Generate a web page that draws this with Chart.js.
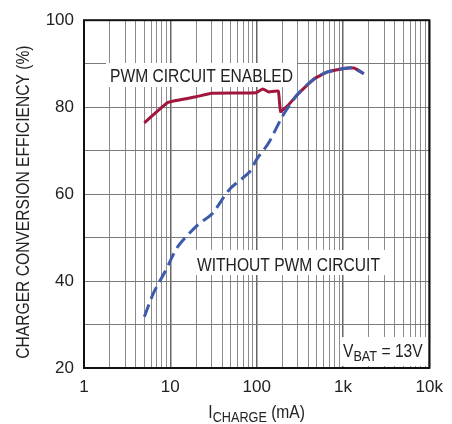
<!DOCTYPE html>
<html>
<head>
<meta charset="utf-8">
<script src="https://cdn.jsdelivr.net/npm/chart.js@4"></script>
<style>
  body { margin: 0; background: #fff; }
  #wrap { width: 452px; height: 424px; }
</style>
</head>
<body>
<div id="wrap"><canvas id="effChart" width="452" height="424"></canvas></div>
<script>
// charge current (mA) and efficiency (%)
const pwmCurrent = [5, 9.4, 20, 30, 98, 118, 138, 178, 189, 233, 294, 470, 665, 1025, 1340, 1740];
const pwmEff     = [76.4, 81.1, 82.4, 83.2, 83.3, 84.2, 83.5, 83.7, 79.0, 80.5, 82.8, 86.6, 88.1, 88.9, 89.0, 87.7];

const noPwmCurrent = [5, 6.4, 8.7, 12.2, 20.5, 30.5, 49, 82, 100, 138, 199, 294, 470, 665, 1025, 1340, 1740];
const noPwmEff     = [31.8, 37.3, 42.2, 47.9, 52.8, 55.5, 61.2, 65, 68, 71.8, 77.9, 82.8, 86.6, 88.1, 88.9, 89.0, 87.7];

const xMajorTicks = [1, 10, 100, 1000, 10000];
const xMajorLabels = ['1', '10', '100', '1k', '10k'];
const yTickLabels = [20, 40, 60, 80, 100];

const regular = '"Liberation Sans", Arial, sans-serif';
const SQUEEZE = 0.844; // no narrow face installed, so squash Liberation Sans

// every log grid line 1..9 per decade
const xGridValues = [];
for (let d = 1; d < 10000; d *= 10) {
    for (let k = 1; k < 10; k++) xGridValues.push(d * k);
}
xGridValues.push(10000);

function toPoints(xs, ys) {
    return xs.map((x, i) => ({ x: x, y: ys[i] }));
}

function narrowText(ctx, text, x, y, size) {
    ctx.font = size + 'px ' + regular;
    ctx.save();
    ctx.translate(x, y);
    ctx.scale(SQUEEZE, 1);
    ctx.fillText(text, 0, 0);
    ctx.restore();
    return ctx.measureText(text).width * SQUEEZE;
}

function partsWidth(ctx, parts, big, small) {
    let w = 0;
    parts.forEach(p => {
        ctx.font = (p.sub ? small : big) + 'px ' + regular;
        w += ctx.measureText(p.t).width * SQUEEZE;
    });
    return w;
}

// text with subscript parts
function drawParts(ctx, parts, x, y, big, small, drop) {
    let cx = x;
    parts.forEach(p => {
        cx += narrowText(ctx, p.t, cx, p.sub ? y + drop : y, p.sub ? small : big);
    });
}

const labelsPlugin = {
    id: 'labelsPlugin',
    beforeDatasetsDraw(chart) {
        const ctx = chart.ctx;
        const a = chart.chartArea;
        ctx.save();
        ctx.textBaseline = 'alphabetic';
        ctx.textAlign = 'left';
        ctx.fillStyle = '#fff';
        ctx.fillRect(106, 63, 191, 24);
        ctx.fillRect(194, 250, 191, 25);
        ctx.fillRect(340, 337, a.right - 341, 29);

        ctx.fillStyle = '#222';
        narrowText(ctx, 'PWM CIRCUIT ENABLED', 110, 82, 18.5);
        narrowText(ctx, 'WITHOUT PWM CIRCUIT', 197, 271, 18.5);

        const vParts = [{ t: 'V' }, { t: 'BAT', sub: true }, { t: ' = 13V' }];
        drawParts(ctx, vParts, 343, 357, 18.5, 15, 4);
        ctx.restore();
    },
    afterDraw(chart) {
        const ctx = chart.ctx;
        const a = chart.chartArea;
        ctx.save();
        ctx.strokeStyle = '#111';
        ctx.lineWidth = 2;
        ctx.strokeRect(a.left, a.top, a.right - a.left, a.bottom - a.top);

        ctx.fillStyle = '#222';
        ctx.textBaseline = 'alphabetic';
        ctx.textAlign = 'left';

        // x axis title
        const xParts = [{ t: 'I' }, { t: 'CHARGE', sub: true }, { t: ' (mA)' }];
        const w = partsWidth(ctx, xParts, 18.5, 15);
        drawParts(ctx, xParts, (a.left + a.right) / 2 - w / 2, 418, 18.5, 15, 4);

        // y axis title
        ctx.translate(29, (a.top + a.bottom) / 2 + 8);
        ctx.rotate(-Math.PI / 2);
        ctx.textAlign = 'center';
        narrowText(ctx, 'CHARGER CONVERSION EFFICIENCY (%)', 0, 0, 18.5);
        ctx.restore();
    }
};

const ctx = document.getElementById('effChart').getContext('2d');
new Chart(ctx, {
    type: 'line',
    data: {
        datasets: [
            {
                label: 'WITHOUT PWM CIRCUIT',
                data: toPoints(noPwmCurrent, noPwmEff),
                borderColor: '#3d5bab',
                borderWidth: 3,
                borderDash: [13, 6],
                pointRadius: 0,
                tension: 0.25,
                fill: false,
                order: 1
            },
            {
                label: 'PWM CIRCUIT ENABLED',
                data: toPoints(pwmCurrent, pwmEff),
                borderColor: '#a3163c',
                borderWidth: 3,
                pointRadius: 0,
                tension: 0.1,
                fill: false,
                order: 2
            }
        ]
    },
    options: {
        responsive: false,
        animation: false,
        devicePixelRatio: 1,
        layout: { padding: { left: 0, top: 16, right: 15, bottom: 0 } },
        plugins: {
            legend: { display: false },
            tooltip: { enabled: false }
        },
        scales: {
            x: {
                type: 'logarithmic',
                min: 1,
                max: 10000,
                afterFit(s) { s.height = 56; },
                afterBuildTicks(s) {
                    s.ticks = xGridValues.map(v => ({ value: v, major: xMajorTicks.includes(v) }));
                },
                grid: {
                    drawTicks: false,
                    color: ctx => xMajorTicks.includes(ctx.tick && ctx.tick.value) ? '#666' : '#8c8c8c',
                    lineWidth: ctx => xMajorTicks.includes(ctx.tick && ctx.tick.value) ? 1.5 : 1
                },
                border: { display: false },
                ticks: {
                    autoSkip: false,
                    maxRotation: 0,
                    padding: 9,
                    color: '#222',
                    font: { family: regular, size: 17 },
                    callback: v => {
                        const i = xMajorTicks.indexOf(v);
                        return i >= 0 ? xMajorLabels[i] : '';
                    }
                }
            },
            y: {
                min: 20,
                max: 100,
                afterFit(s) { s.width = 84; },
                grid: { drawTicks: false, color: '#7a7a7a', lineWidth: 1 },
                border: { display: false },
                ticks: {
                    stepSize: 10,
                    padding: 10,
                    color: '#222',
                    font: { family: regular, size: 17 },
                    callback: v => yTickLabels.includes(v) ? String(v) : ''
                }
            }
        }
    },
    plugins: [labelsPlugin]
});
</script>
</body>
</html>
